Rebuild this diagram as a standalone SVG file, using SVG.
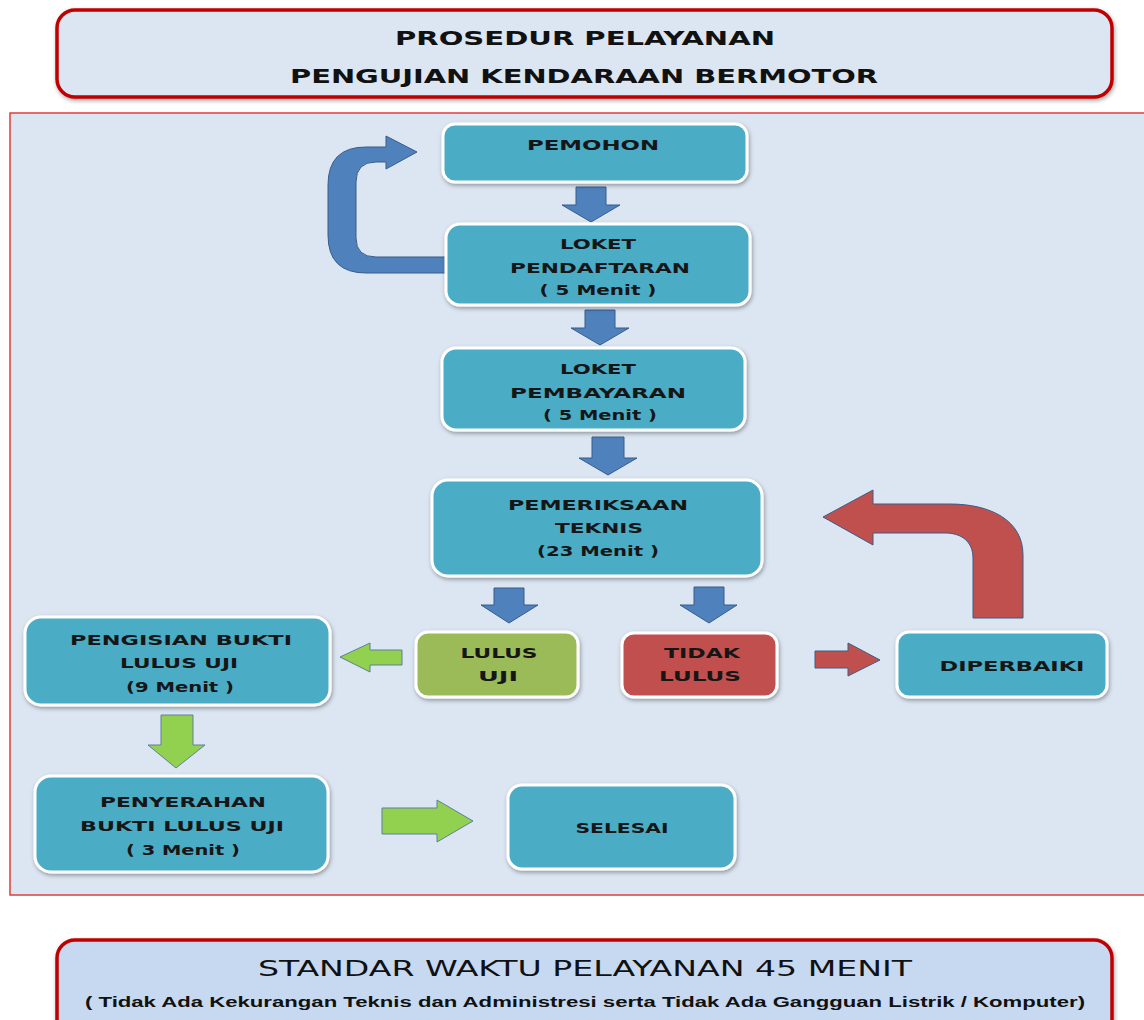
<svg xmlns="http://www.w3.org/2000/svg" width="1144" height="1020" viewBox="0 0 1144 1020">
<defs>
<filter id="sh" x="-10%" y="-10%" width="120%" height="130%">
<feDropShadow dx="1" dy="2" stdDeviation="2" flood-color="#000" flood-opacity="0.35"/>
</filter>
<style>
.box{fill:#4bacc6;stroke:#ffffff;stroke-width:3;filter:url(#sh)}
.green{fill:#9bbb59}
.red{fill:#c0504d}
.t{font-family:"DejaVu Sans",Verdana,sans-serif;font-weight:bold;font-size:14px;fill:#161616;text-anchor:middle}
.title{font-family:"DejaVu Sans Condensed","Liberation Sans",Arial,sans-serif;font-weight:bold;font-size:19px;fill:#111;text-anchor:middle}
.frame{fill:#dce6f2;stroke:#c00000;stroke-width:3.5;filter:url(#sh)}
.ab{fill:#4f81bd;stroke:#385d8a;stroke-width:1}
.ag{fill:#92d050;stroke:#5f7f9f;stroke-width:1}
.ar{fill:#c0504d;stroke:#385d8a;stroke-width:1}
</style>
</defs>
<rect width="1144" height="1020" fill="#ffffff"/>

<g id="header">
<rect class="frame" x="57" y="10" width="1055" height="87" rx="18"/>
<text class="title" x="585" y="45" textLength="380" lengthAdjust="spacingAndGlyphs">PROSEDUR  PELAYANAN</text>
<text class="title" x="584" y="83" textLength="588" lengthAdjust="spacingAndGlyphs">PENGUJIAN KENDARAAN  BERMOTOR</text>
</g>

<g id="panel">
<rect x="10" y="113" width="1145" height="782" fill="#dce6f2" stroke="#e03c3c" stroke-width="1.5"/>
</g>

<g id="connectors">
<path class="ab" d="M446 273 L366 273 Q328 273 328 235 L328 185 Q328 147 366 147 L386 147 L386 136 L417 152 L386 169 L386 162 L376 162 Q356 162 356 182 L356 238 Q356 257 376 257 L446 257 Z"/>
<path class="ab" d="M576 187 L606 187 L606 205 L620 205 L591 222 L562 205 L576 205 Z"/>
<path class="ab" d="M585 310 L615 310 L615 328 L629 328 L600 345 L571 328 L585 328 Z"/>
<path class="ab" d="M592 437 L624 437 L624 458 L637 458 L608 475 L579 458 L592 458 Z"/>
<path class="ab" d="M494 588 L524 588 L524 605 L538 605 L509 623 L481 605 L494 605 Z"/>
<path class="ab" d="M694 587 L724 587 L724 605 L737 605 L709 623 L680 605 L694 605 Z"/>
<path class="ag" d="M402 650 L370 650 L370 643 L340 657 L370 672 L370 665 L402 665 Z"/>
<path class="ar" d="M815 651 L848 651 L848 643 L880 660 L848 676 L848 668 L815 668 Z"/>
<path class="ar" d="M1023 618 L1023 555 C1023 520 990 504 950 504 L873 504 L873 490 L823 517 L873 545 L873 533 L945 533 C962 533 973 542 973 558 L973 618 Z"/>
<path class="ag" d="M161 715 L193 715 L193 745 L205 745 L176 768 L148 745 L161 745 Z"/>
<path class="ag" d="M382 808 L437 808 L437 800 L473 821 L437 842 L437 834 L382 834 Z"/>
</g>

<g id="pemohon">
<rect class="box" x="443" y="124" width="304" height="58" rx="12"/>
<text class="t" x="593" y="150" textLength="132" lengthAdjust="spacingAndGlyphs">PEMOHON</text>
</g>
<g id="loket-pendaftaran">
<rect class="box" x="446" y="224" width="304" height="81" rx="14"/>
<text class="t" x="598" y="249" textLength="76" lengthAdjust="spacingAndGlyphs">LOKET</text>
<text class="t" x="600" y="273" textLength="180" lengthAdjust="spacingAndGlyphs">PENDAFTARAN</text>
<text class="t" x="598" y="295" textLength="117" lengthAdjust="spacingAndGlyphs">( 5 Menit )</text>
</g>
<g id="loket-pembayaran">
<rect class="box" x="442" y="348" width="303" height="82" rx="14"/>
<text class="t" x="598" y="374" textLength="76" lengthAdjust="spacingAndGlyphs">LOKET</text>
<text class="t" x="598" y="398" textLength="176" lengthAdjust="spacingAndGlyphs">PEMBAYARAN</text>
<text class="t" x="600" y="420" textLength="114" lengthAdjust="spacingAndGlyphs">( 5 Menit )</text>
</g>
<g id="pemeriksaan">
<rect class="box" x="432" y="480" width="330" height="96" rx="16"/>
<text class="t" x="598" y="510" textLength="180" lengthAdjust="spacingAndGlyphs">PEMERIKSAAN</text>
<text class="t" x="599" y="533" textLength="88" lengthAdjust="spacingAndGlyphs">TEKNIS</text>
<text class="t" x="598" y="556" textLength="122" lengthAdjust="spacingAndGlyphs">(23 Menit )</text>
</g>
<g id="pengisian">
<rect class="box" x="25" y="617" width="305" height="88" rx="16"/>
<text class="t" x="181" y="645" textLength="222" lengthAdjust="spacingAndGlyphs">PENGISIAN  BUKTI</text>
<text class="t" x="179" y="668" textLength="118" lengthAdjust="spacingAndGlyphs">LULUS UJI</text>
<text class="t" x="180" y="692" textLength="108" lengthAdjust="spacingAndGlyphs">(9 Menit )</text>
</g>
<g id="lulus-uji">
<rect class="box green" x="416" y="632" width="162" height="65" rx="12"/>
<text class="t" x="499" y="658" textLength="77" lengthAdjust="spacingAndGlyphs">LULUS</text>
<text class="t" x="498" y="681" textLength="40" lengthAdjust="spacingAndGlyphs">UJI</text>
</g>
<g id="tidak-lulus">
<rect class="box red" x="622" y="633" width="155" height="64" rx="12"/>
<text class="t" x="702" y="658" textLength="76" lengthAdjust="spacingAndGlyphs">TIDAK</text>
<text class="t" x="700" y="681" textLength="82" lengthAdjust="spacingAndGlyphs">LULUS</text>
</g>
<g id="diperbaiki">
<rect class="box" x="897" y="632" width="210" height="65" rx="12"/>
<text class="t" x="1012" y="671" textLength="145" lengthAdjust="spacingAndGlyphs">DIPERBAIKI</text>
</g>
<g id="penyerahan">
<rect class="box" x="35" y="776" width="293" height="96" rx="16"/>
<text class="t" x="183" y="807" textLength="166" lengthAdjust="spacingAndGlyphs">PENYERAHAN</text>
<text class="t" x="182" y="831" textLength="204" lengthAdjust="spacingAndGlyphs">BUKTI LULUS UJI</text>
<text class="t" x="183" y="855" textLength="114" lengthAdjust="spacingAndGlyphs">( 3 Menit )</text>
</g>
<g id="selesai">
<rect class="box" x="508" y="785" width="227" height="84" rx="14"/>
<text class="t" x="622" y="833" textLength="93" lengthAdjust="spacingAndGlyphs">SELESAI</text>
</g>

<g id="footer">
<rect class="frame" x="57" y="940" width="1055" height="110" rx="18" style="fill:#c6d9f1"/>
<text x="585" y="976" font-family="DejaVu Sans Condensed, Liberation Sans, Arial, sans-serif" font-size="22" fill="#111" text-anchor="middle" textLength="654" lengthAdjust="spacingAndGlyphs">STANDAR WAKTU  PELAYANAN 45 MENIT</text>
<text x="585" y="1007" font-family="Liberation Sans, Arial, sans-serif" font-weight="bold" font-size="14" fill="#111" text-anchor="middle" textLength="1000" lengthAdjust="spacingAndGlyphs">( Tidak  Ada Kekurangan Teknis dan Administresi serta Tidak Ada Gangguan Listrik / Komputer)</text>
</g>
</svg>
